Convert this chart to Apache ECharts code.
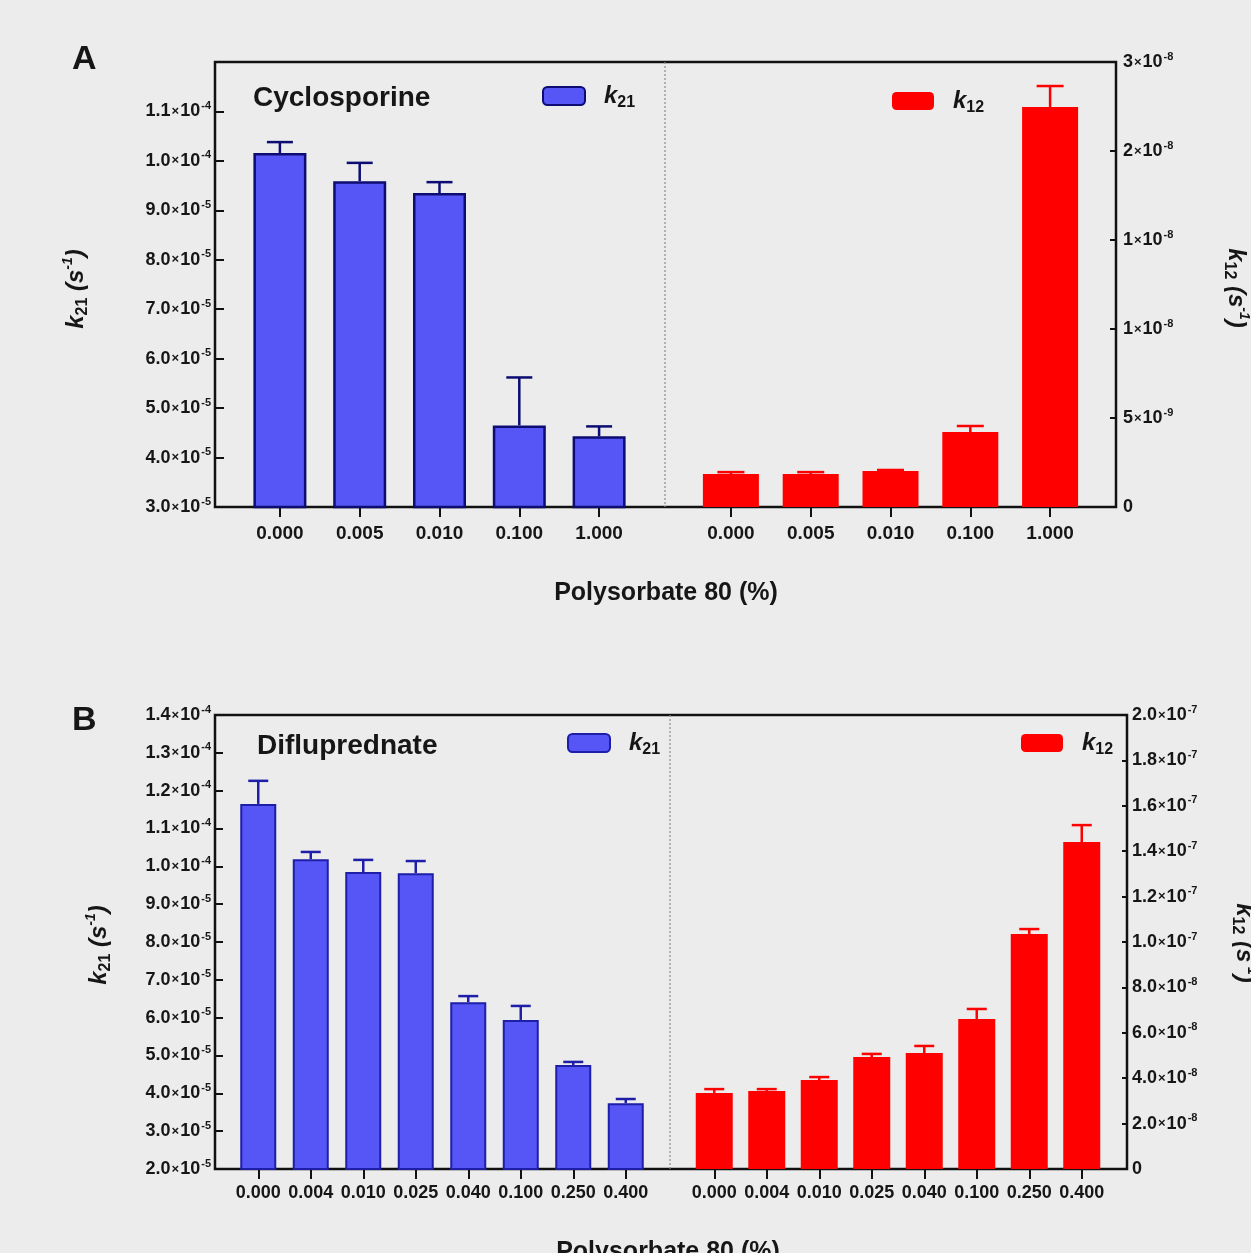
<!DOCTYPE html>
<html>
<head>
<meta charset="utf-8">
<script src="https://cdn.jsdelivr.net/npm/echarts/dist/echarts.min.js"></script>
<style>
html,body{margin:0;padding:0;background:#ececec;}
#chart{width:1251px;height:1253px;}
</style>
</head>
<body>
<div id="chart"></div>
<script>
// ---------- DATA ----------
// Panel A: Cyclosporine
const catsA = ['0.000', '0.005', '0.010', '0.100', '1.000'];
const k21A = [1.016e-4, 9.59e-5, 9.35e-5, 4.65e-5, 4.43e-5];
const k21A_err = [2.2e-6, 3.7e-6, 2.2e-6, 9.7e-6, 2.0e-6];
const k12A = [1.85e-9, 1.85e-9, 2.02e-9, 4.21e-9, 2.247e-8];
const k12A_err = [1.1e-10, 1.1e-10, 6e-11, 3.4e-10, 1.18e-9];
// Panel B: Difluprednate
const catsB = ['0.000', '0.004', '0.010', '0.025', '0.040', '0.100', '0.250', '0.400'];
const k21B = [1.165e-4, 1.019e-4, 9.85e-5, 9.82e-5, 6.41e-5, 5.94e-5, 4.75e-5, 3.74e-5];
const k21B_err = [6.1e-6, 1.9e-6, 3.2e-6, 3.2e-6, 1.6e-6, 3.7e-6, 8e-7, 1.1e-6];
const k12B = [3.35e-8, 3.44e-8, 3.92e-8, 4.93e-8, 5.11e-8, 6.61e-8, 1.035e-7, 1.44e-7];
const k12B_err = [1.7e-9, 8e-10, 1.3e-9, 1.4e-9, 3.1e-9, 4.4e-9, 2.2e-9, 7.5e-9];
// Tick labels
const aLeftTicks = ['3.0×10^-5', '4.0×10^-5', '5.0×10^-5', '6.0×10^-5', '7.0×10^-5', '8.0×10^-5', '9.0×10^-5', '1.0×10^-4', '1.1×10^-4', ''];
const aRightTicks = ['0', '5×10^-9', '1×10^-8', '1×10^-8', '2×10^-8', '3×10^-8'];
const bLeftTicks = ['2.0×10^-5', '3.0×10^-5', '4.0×10^-5', '5.0×10^-5', '6.0×10^-5', '7.0×10^-5', '8.0×10^-5', '9.0×10^-5', '1.0×10^-4', '1.1×10^-4', '1.2×10^-4', '1.3×10^-4', '1.4×10^-4'];
const bRightTicks = ['0', '2.0×10^-8', '4.0×10^-8', '6.0×10^-8', '8.0×10^-8', '1.0×10^-7', '1.2×10^-7', '1.4×10^-7', '1.6×10^-7', '1.8×10^-7', '2.0×10^-7'];
// Axis ranges [min, max, interval]
const aLeftRange = [3e-5, 1.2e-4, 1e-5];
const aRightRange = [0, 2.5e-8, 5e-9];
const bLeftRange = [2e-5, 1.4e-4, 1e-5];
const bRightRange = [0, 2e-7, 2e-8];

// ---------- STYLE / LAYOUT ----------
const FONT = "'Liberation Sans', Arial, Helvetica, sans-serif";
const TXT = '#161616';
const BLUE = '#5656f6';
const NAVY = '#0c0c72';
const BLUE_B_BORDER = '#1e1ea8';
const RED = '#ff0000';

const PA = {left: 215, top: 62, width: 901, height: 445};
const PB = {left: 215, top: 715, width: 912, height: 454};
const SA_L = {left: 240, width: 399};
const SA_R = {left: 691, width: 399};
const SB_L = {left: 232, width: 420};
const SB_R = {left: 688, width: 420};

const tickRich = {
  m: {fontSize: 18, fontWeight: 'bold', lineHeight: 22, color: TXT, fontFamily: FONT},
  x: {fontSize: 13, fontWeight: 'bold', lineHeight: 22, color: TXT, fontFamily: FONT, padding: [0, 1, 0, 1]},
  e: {fontSize: 11, fontWeight: 'bold', lineHeight: 11, verticalAlign: 'top', color: TXT, fontFamily: FONT, padding: [0, 0, 0, 1]}
};
function tickFmt(arr, range) {
  return function (v) {
    const i = Math.round((v - range[0]) / range[2]);
    const s = arr[i];
    if (!s) return '';
    if (s.indexOf('×10^') < 0) return '{m|' + s + '}';
    const parts = s.split('×10^');
    return '{m|' + parts[0] + '}{x|×}{m|10}{e|' + parts[1] + '}';
  };
}

function frameY(gridIndex, range, ticks, position, tickLen, margin) {
  return {
    type: 'value', gridIndex: gridIndex, position: position,
    min: range[0], max: range[1], interval: range[2],
    axisLine: {show: false},
    axisTick: {show: true, inside: true, length: tickLen, lineStyle: {color: '#111', width: 2}},
    splitLine: {show: false},
    axisLabel: {show: true, margin: margin, formatter: tickFmt(ticks, range), rich: tickRich,
      align: position === 'left' ? 'right' : 'left', color: TXT}
  };
}
function hiddenY(gridIndex, range) {
  return {type: 'value', gridIndex: gridIndex, min: range[0], max: range[1], interval: range[2], show: false, splitLine: {show: false}};
}
function catX(gridIndex, cats, margin, fontSize) {
  return {
    type: 'category', gridIndex: gridIndex, data: cats,
    axisLine: {show: false},
    axisTick: {show: true, alignWithLabel: true, inside: false, length: 10, lineStyle: {color: '#111', width: 2}},
    axisLabel: {interval: 0, margin: margin, color: TXT, fontSize: fontSize, fontWeight: 'bold', fontFamily: FONT},
    splitLine: {show: false}
  };
}
function errSeries(name, xi, yi, vals, errs, color, capHalf) {
  return {
    type: 'custom', name: name, xAxisIndex: xi, yAxisIndex: yi, z: 5,
    data: vals.map((v, i) => [i, v, errs[i]]),
    encode: {x: 0, y: 1},
    renderItem: function (params, api) {
      const x = api.value(0), m = api.value(1), e = api.value(2);
      const p0 = api.coord([x, m]);
      const p1 = api.coord([x, m + e]);
      const st = {stroke: color, lineWidth: 2.5};
      return {type: 'group', children: [
        {type: 'line', shape: {x1: p0[0], y1: p0[1], x2: p1[0], y2: p1[1]}, style: st},
        {type: 'line', shape: {x1: p1[0] - capHalf, y1: p1[1], x2: p1[0] + capHalf, y2: p1[1]}, style: st}
      ]};
    }
  };
}
const legRich = {
  k: {fontSize: 24, fontStyle: 'italic', fontWeight: 'bold', lineHeight: 30, color: TXT, fontFamily: FONT, padding: [0, 0, 0, 14]},
  s: {fontSize: 16, fontWeight: 'bold', lineHeight: 15, verticalAlign: 'bottom', color: TXT, fontFamily: FONT}
};
function legend(name, sub, left, top) {
  return {
    data: [name], left: left, top: top, padding: 0, icon: 'roundRect', itemWidth: 42, itemHeight: 18,
    selectedMode: false,
    formatter: function () { return '{k|k}{s|' + sub + '}'; },
    textStyle: {rich: legRich}
  };
}
const nameRich = {
  k: {fontSize: 24, fontStyle: 'italic', fontWeight: 'bold', lineHeight: 30, fill: TXT, fontFamily: FONT},
  s: {fontSize: 16, fontWeight: 'bold', lineHeight: 16, verticalAlign: 'bottom', fill: TXT, fontFamily: FONT},
  t: {fontSize: 24, fontStyle: 'italic', fontWeight: 'bold', lineHeight: 30, fill: TXT, fontFamily: FONT},
  p: {fontSize: 14, fontStyle: 'italic', fontWeight: 'bold', lineHeight: 14, verticalAlign: 'top', fill: TXT, fontFamily: FONT}
};
function axisName(sub, x, y, rot) {
  return {type: 'text', x: x, y: y, rotation: rot, z: 10,
    style: {text: '{k|k}{s|' + sub + '}{t| (s}{p|-1}{t|)}', rich: nameRich, align: 'center', verticalAlign: 'middle'}};
}
function plainText(text, x, y, size, align) {
  return {type: 'text', x: x, y: y, z: 10,
    style: {text: text, fontSize: size, fontWeight: 'bold', fontFamily: FONT, fill: TXT, align: align || 'left', verticalAlign: 'middle'}};
}
function divider(x, top, bottom) {
  return {type: 'line', z: 1, shape: {x1: x, y1: top, x2: x, y2: bottom}, style: {stroke: '#8a8a8a', lineWidth: 1.2, lineDash: [2, 2]}};
}

const frameStyle = {show: true, borderColor: '#111', borderWidth: 2.5, backgroundColor: 'transparent', containLabel: false};

const option = {
  backgroundColor: '#ececec',
  animation: false,
  grid: [
    Object.assign({}, PA, frameStyle),
    {left: SA_L.left, width: SA_L.width, top: PA.top, height: PA.height},
    {left: SA_R.left, width: SA_R.width, top: PA.top, height: PA.height},
    Object.assign({}, PB, frameStyle),
    {left: SB_L.left, width: SB_L.width, top: PB.top, height: PB.height},
    {left: SB_R.left, width: SB_R.width, top: PB.top, height: PB.height}
  ],
  xAxis: [
    {type: 'value', gridIndex: 0, min: 0, max: 1, show: false},
    catX(1, catsA, 17, 19),
    catX(2, catsA, 17, 19),
    {type: 'value', gridIndex: 3, min: 0, max: 1, show: false},
    catX(4, catsB, 15, 18),
    catX(5, catsB, 15, 18)
  ],
  yAxis: [
    frameY(0, aLeftRange, aLeftTicks, 'left', 9, 4),
    frameY(0, aRightRange, aRightTicks, 'right', 6, 7),
    hiddenY(1, aLeftRange),
    hiddenY(2, aRightRange),
    frameY(3, bLeftRange, bLeftTicks, 'left', 8, 4),
    frameY(3, bRightRange, bRightTicks, 'right', 5, 5),
    hiddenY(4, bLeftRange),
    hiddenY(5, bRightRange)
  ],
  legend: [
    legend('k21A', '21', 542, 84),
    legend('k12A', '12', 892, 89),
    legend('k21B', '21', 567, 731),
    legend('k12B', '12', 1021, 731)
  ],
  series: [
    {type: 'bar', name: 'k21A', xAxisIndex: 1, yAxisIndex: 2, data: k21A, barWidth: 53,
      itemStyle: {color: BLUE, borderColor: NAVY, borderWidth: 2.5}},
    errSeries('k21A', 1, 2, k21A, k21A_err, NAVY, 13),
    {type: 'bar', name: 'k12A', xAxisIndex: 2, yAxisIndex: 3, data: k12A, barWidth: 56,
      itemStyle: {color: RED, borderColor: RED, borderWidth: 0}},
    errSeries('k12A', 2, 3, k12A, k12A_err, RED, 13.5),
    {type: 'bar', name: 'k21B', xAxisIndex: 4, yAxisIndex: 6, data: k21B, barWidth: 36,
      itemStyle: {color: BLUE, borderColor: BLUE_B_BORDER, borderWidth: 2}},
    errSeries('k21B', 4, 6, k21B, k21B_err, BLUE_B_BORDER, 10),
    {type: 'bar', name: 'k12B', xAxisIndex: 5, yAxisIndex: 7, data: k12B, barWidth: 37,
      itemStyle: {color: RED, borderColor: RED, borderWidth: 0}},
    errSeries('k12B', 5, 7, k12B, k12B_err, RED, 10)
  ],
  graphic: [
    plainText('A', 72, 60, 34),
    plainText('B', 72, 721, 34),
    plainText('Cyclosporine', 253, 98, 28),
    plainText('Difluprednate', 257, 746, 28),
    plainText('Polysorbate 80 (%)', 666, 593, 25, 'center'),
    plainText('Polysorbate 80 (%)', 668, 1252, 25, 'center'),
    axisName('21', 76, 289, Math.PI / 2),
    axisName('12', 1236, 288, -Math.PI / 2),
    axisName('21', 99, 945, Math.PI / 2),
    axisName('12', 1244, 943, -Math.PI / 2),
    divider((SA_L.left + SA_L.width + SA_R.left) / 2, PA.top, PA.top + PA.height),
    divider((SB_L.left + SB_L.width + SB_R.left) / 2, PB.top, PB.top + PB.height)
  ]
};

const chart = echarts.init(document.getElementById('chart'), null, {renderer: 'canvas'});
chart.setOption(option);
</script>
</body>
</html>
